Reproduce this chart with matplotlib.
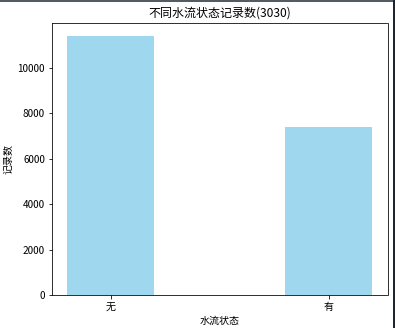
import matplotlib.pyplot as plt
from matplotlib.lines import Line2D

plt.rcParams['font.family'] = ['Noto Sans CJK SC', 'DejaVu Sans']
plt.rcParams['axes.unicode_minus'] = False

# Data
states = ['无', '有']
counts = [11400, 7400]

W, H = 395, 328
fig = plt.figure(figsize=(W / 72, H / 72), dpi=72)
ax = fig.add_subplot(111)
fig.subplots_adjust(left=52 / W, right=387.5 / W, top=1 - 23 / H, bottom=1 - 295 / H)

ax.bar(states, counts, width=0.4, color='skyblue', alpha=0.8)
ax.set_title('不同水流状态记录数(3030)')
ax.set_xlabel('水流状态')
ax.set_ylabel('记录数')

# dark screenshot edges on top and right
fig.add_artist(Line2D([0, 1], [1 - 0.5 / H, 1 - 0.5 / H], transform=fig.transFigure,
                      color='#1c2630', lw=1.5))
fig.add_artist(Line2D([1 - 1 / W, 1 - 1 / W], [0, 1], transform=fig.transFigure,
                      color='#1c2630', lw=2))

fig.savefig('out.png', dpi=72)
